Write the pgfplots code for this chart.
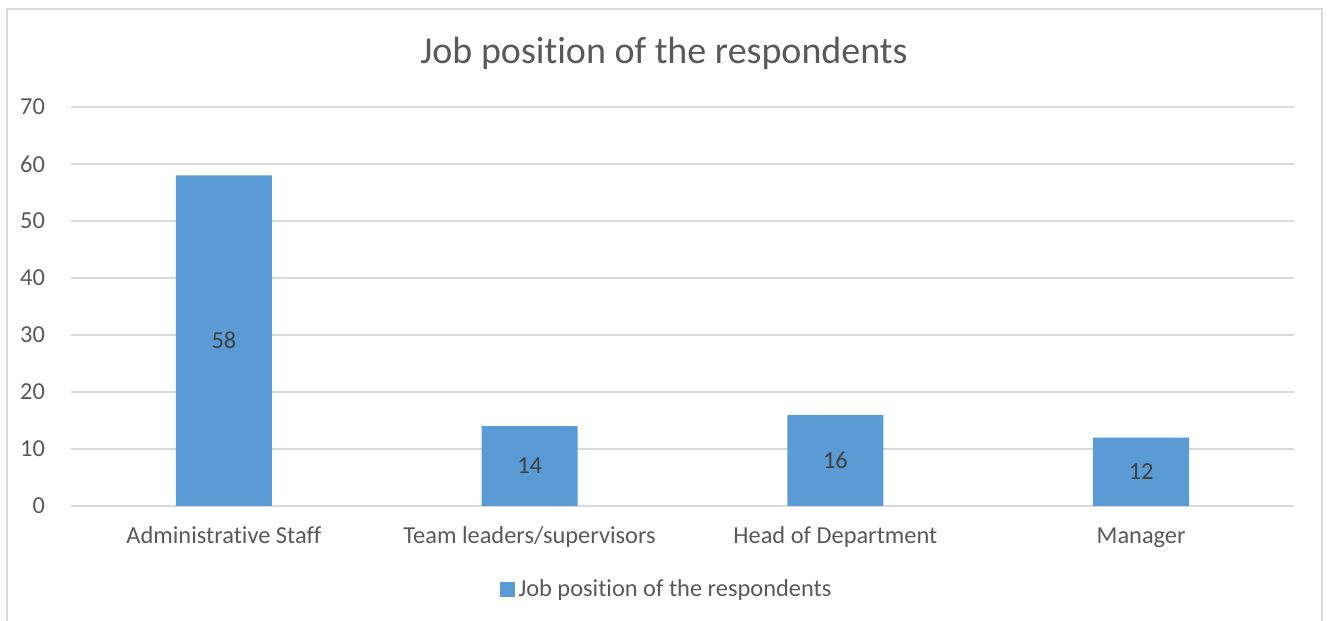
\documentclass[border=0pt]{standalone}
\usepackage{pgfplots}
\pgfplotsset{compat=1.18}
\usepackage{fontspec}
\setmainfont{Carlito}[Ligatures=NoCommon]
\definecolor{barblue}{HTML}{5B9BD5}
\definecolor{gridgray}{HTML}{D9D9D9}
\definecolor{txtgray}{HTML}{595959}
\definecolor{lblgray}{HTML}{404040}
\begin{document}
\begin{tikzpicture}
\begin{scope}[x=0.5pt,y=0.5pt]
\path[use as bounding box] (0,0) rectangle (1328,621);
\draw[gridgray, line width=1pt] (7,0) -- (7,612) -- (1322,612) -- (1322,0);
\node[txtgray, font=\fontsize{19}{22}\selectfont] at (664,568) {Job position of the respondents};
\end{scope}
\begin{axis}[
  at={(35.5pt,57.5pt)}, anchor=south west,
  scale only axis, width=611.5pt, height=199.5pt,
  xmin=-0.5, xmax=3.5, ymin=0, ymax=70,
  ytick={0,10,...,70},
  xtick={0,1,2,3},
  xticklabels={Administrative Staff, Team leaders/supervisors, Head of Department, Manager},
  axis line style={draw=none},
  major tick length=0pt,
  ymajorgrids, grid style={gridgray, line width=1pt},
  tick label style={txtgray, font=\fontsize{12.2}{15}\selectfont},
  /pgf/number format/assume math mode=true,
  yticklabel style={anchor=east, xshift=-9.5pt},
  xticklabel style={anchor=base, yshift=-19pt},
  legend style={at={(0.4877,-0.2105)}, anchor=center, draw=none, fill=none,
    font=\fontsize{12.2}{15}\selectfont, text=txtgray, legend cell align=left},
  legend image code/.code={\fill[barblue] (0pt,-3.75pt) rectangle (7.5pt,3.75pt);},
]
\addplot[ybar, bar width=48pt, fill=barblue, draw=none,
  nodes near coords,
  visualization depends on=rawy\as\rawy,
  every node near coord/.append style={anchor=center, lblgray, font=\fontsize{12.2}{15}\selectfont, yshift=-\rawy*1.425pt},
] coordinates {(0,58) (1,14) (2,16) (3,12)};
\addlegendentry{Job position of the respondents}
\end{axis}
\end{tikzpicture}
\end{document}
